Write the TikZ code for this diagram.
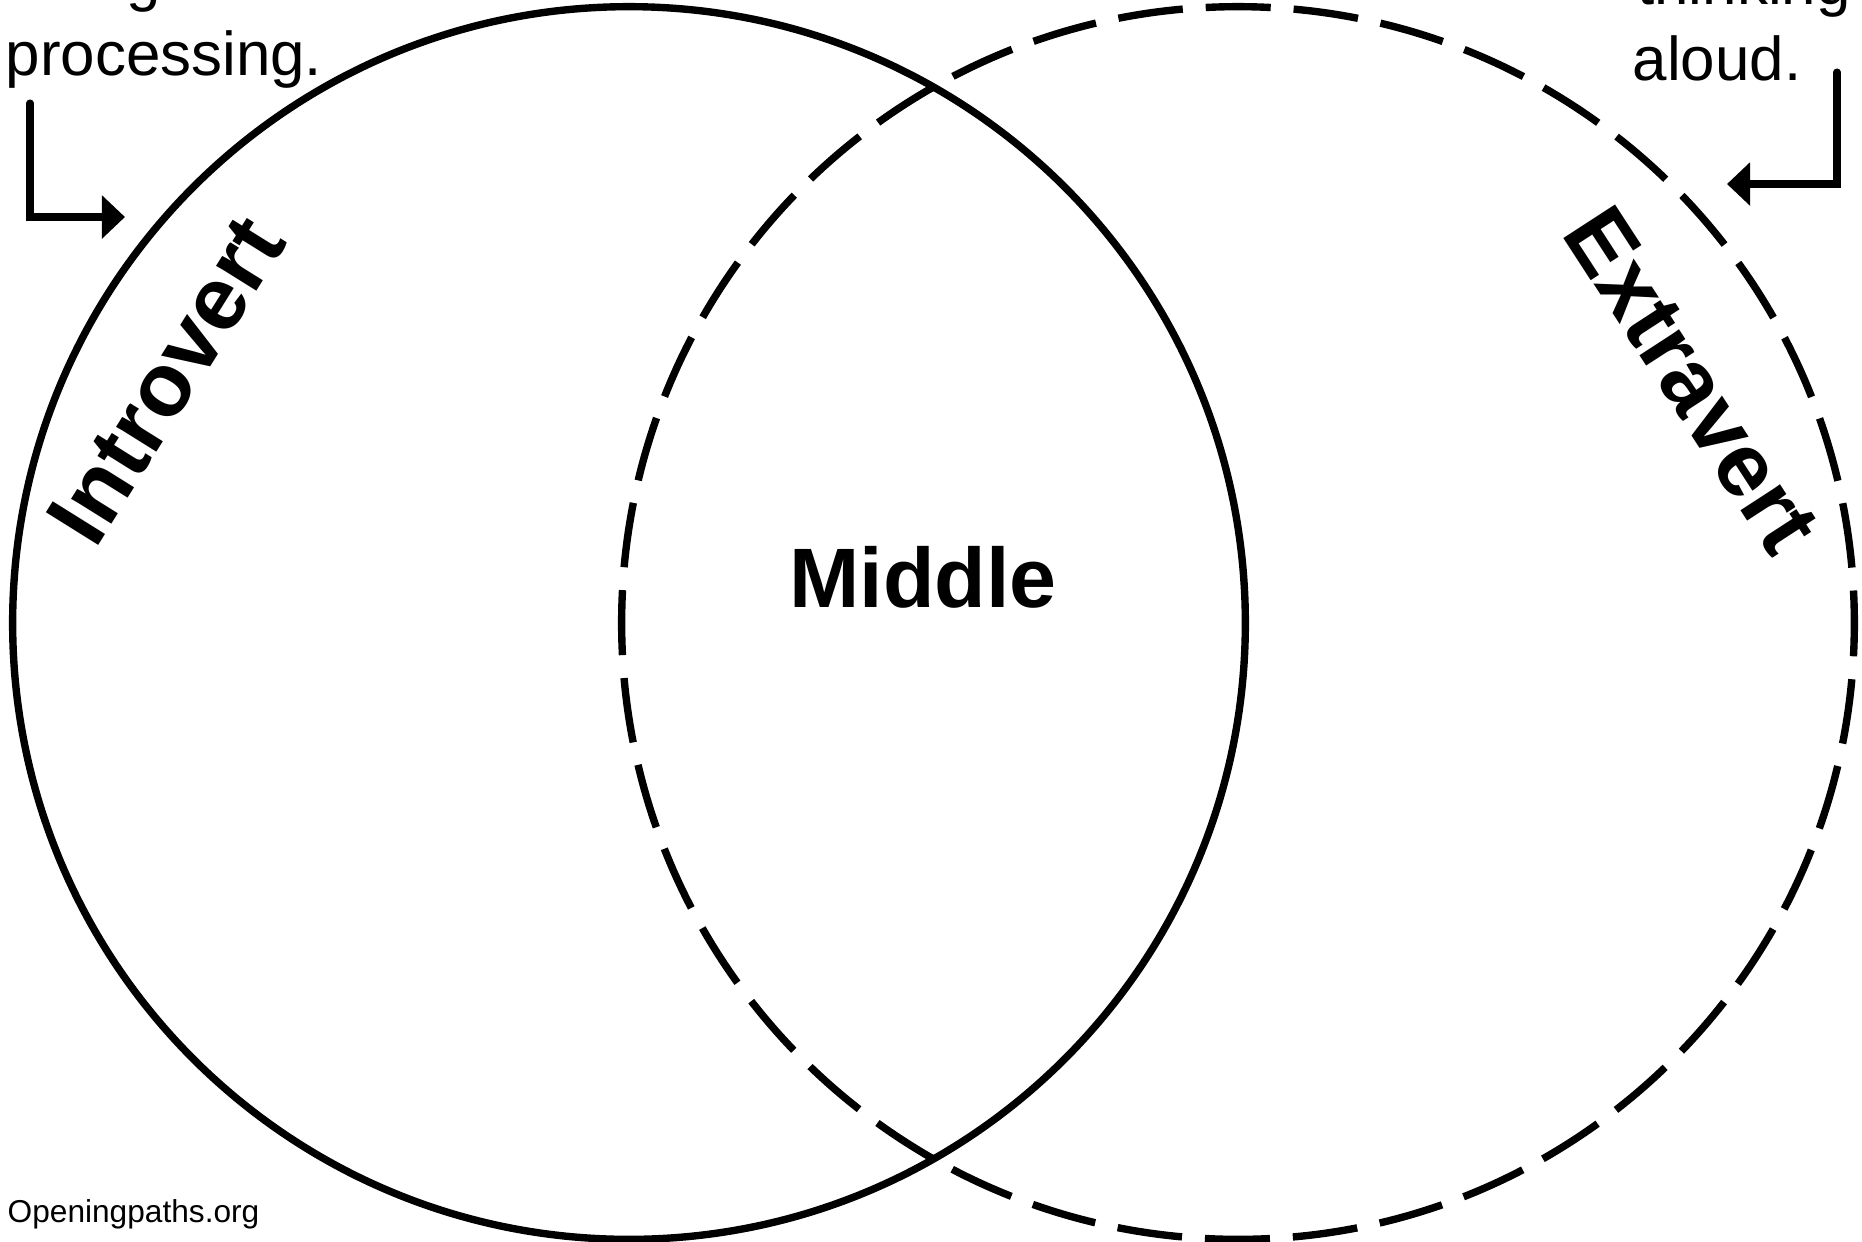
\documentclass[tikz,border=0pt]{standalone}
\usepackage{fontspec}
\setmainfont{Liberation Sans}
\usetikzlibrary{positioning,arrows.meta}

\begin{document}
\begin{tikzpicture}[
			x=0.01cm,y=-0.01cm,
			ring/.style={
				line width=2.1pt
			},
			dashring/.style={
				ring,
				dash pattern=on 0.65cm off 0.2296cm,
				dash phase=0.325cm
			},
			note/.style={
				inner sep=0pt,
				font=\fontsize{17.6}{21.6}\selectfont
			},
			side/.style={
				inner sep=0pt,
				font=\fontsize{25.5}{30}\selectfont\bfseries
			},
			arrow/.style={
				-{Triangle[length=0.23cm,width=0.42cm]},
				line width=2pt,
				line cap=round
			}
			]
			
			\clip (0,0) rectangle (1862,1241);
			
			% the two circles
			\draw[ring] (629,623) circle[radius=6.16cm];
			\draw[dashring] (1238,623) circle[radius=6.16cm];
			
			% labels
			\node[side,rotate=58] (intro) at (166,380) {Introvert};
			\node[side,rotate=-57] (extra) at (1692,380) {Extravert};
			\node[inner sep=0pt,anchor=base,font=\fontsize{24}{28}\selectfont\bfseries] (middle) at (923,607) {Middle};
			
			% notes at the top
			\node[note,anchor=base west] (innerg) at (126,-1) {g};
			\node[note,anchor=base west] (proc) at (5,75) {processing.};
			\node[note,anchor=base] (think) at (1744,4) {thinking};
			\node[note,anchor=base] (aloud) at (1717,80) {aloud.};
			
			% pointers
			\coordinate (lstart) at (30,103);
			\coordinate (ltip) at (125,217);
			\coordinate (rstart) at (1837,72);
			\coordinate (rtip) at (1727,184);
			\draw[arrow] (lstart) |- (ltip);
			\draw[arrow] (rstart) |- (rtip);
			
			\node[inner sep=0pt,anchor=base west,font=\fontsize{9}{11}\selectfont] (site) at (7,1222) {Openingpaths.org};
			
		\end{tikzpicture}
\end{document}
